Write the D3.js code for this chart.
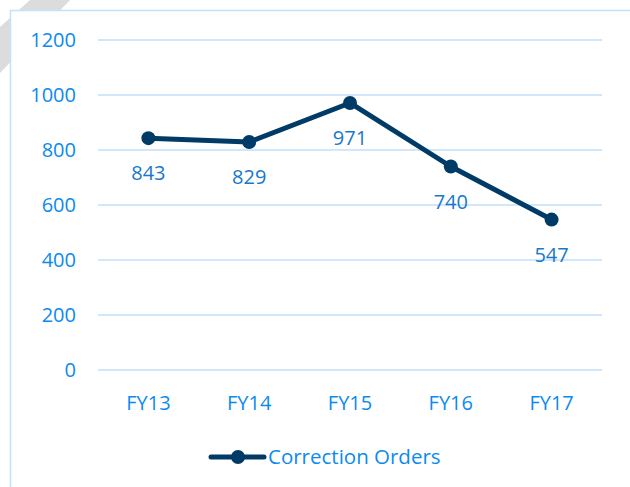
<!DOCTYPE html>
<html>
<head>
<meta charset="utf-8">
<script src="https://cdn.jsdelivr.net/npm/d3@7"></script>
<style>
  body { margin: 0; background: #fff; }
  svg text { font-family: "Open Sans", "Noto Sans", sans-serif; }
</style>
</head>
<body>
<div id="chart"></div>
<script>
const years = ["FY13", "FY14", "FY15", "FY16", "FY17"];
const orders = [843, 829, 971, 740, 547];
const yTicks = [0, 200, 400, 600, 800, 1000, 1200];
const seriesName = "Correction Orders";

const svgWidth = 630, svgHeight = 487,
    margin = { top: 40, right: 28, bottom: 117, left: 98 },
    width = svgWidth - margin.left - margin.right,
    height = svgHeight - margin.top - margin.bottom;

const lineColor = "#003a66", axisText = "#0b8af0", labelText = "#1878cc", gridColor = "#c3e1f9";

let root = d3.select("#chart").append("svg")
    .attr("width", svgWidth)
    .attr("height", svgHeight);

// grey stripe in the corner, behind the chart box
root.append("polygon")
    .attr("points", "30,0 70,0 0,73 0,27")
    .attr("fill", "#dcdcdc");

root.append("rect")
    .attr("x", 10.5).attr("y", 10.5)
    .attr("width", 640).attr("height", 500)
    .attr("fill", "#fff")
    .attr("stroke", gridColor)
    .attr("stroke-width", 1.5);

let svg = root.append("g")
    .attr("transform", "translate(" + margin.left + "," + margin.top + ")");

let x = d3.scaleBand().domain(years).range([0, width]);
let y = d3.scaleLinear().domain([0, 1200]).range([height, 0]);

// gridlines
svg.selectAll("line.grid")
    .data(yTicks)
    .join("line")
    .attr("class", "grid")
    .attr("x1", 0).attr("x2", width)
    .attr("y1", d => y(d)).attr("y2", d => y(d))
    .attr("stroke", gridColor)
    .attr("stroke-width", 1.5);

// y labels
svg.selectAll("text.ytick")
    .data(yTicks)
    .join("text")
    .attr("class", "ytick")
    .attr("x", -22)
    .attr("y", d => y(d))
    .attr("dy", "0.35em")
    .attr("text-anchor", "end")
    .attr("font-size", 20)
    .attr("fill", axisText)
    .text(d => d);

// x labels
svg.selectAll("text.xtick")
    .data(years)
    .join("text")
    .attr("class", "xtick")
    .attr("x", d => x(d) + x.bandwidth() / 2)
    .attr("y", height + 40)
    .attr("text-anchor", "middle")
    .attr("font-size", 20)
    .attr("fill", axisText)
    .text(d => d);

let pts = years.map((d, i) => ({ year: d, value: orders[i] }));

let line = d3.line()
    .x(d => x(d.year) + x.bandwidth() / 2)
    .y(d => y(d.value));

svg.append("path")
    .datum(pts)
    .attr("d", line)
    .attr("fill", "none")
    .attr("stroke", lineColor)
    .attr("stroke-width", 5)
    .attr("stroke-linejoin", "round");

svg.selectAll("circle")
    .data(pts)
    .join("circle")
    .attr("cx", d => x(d.year) + x.bandwidth() / 2)
    .attr("cy", d => y(d.value))
    .attr("r", 7)
    .attr("fill", lineColor);

svg.selectAll("text.lbl")
    .data(pts)
    .join("text")
    .attr("class", "lbl")
    .attr("x", d => x(d.year) + x.bandwidth() / 2)
    .attr("y", d => y(d.value) + 42)
    .attr("text-anchor", "middle")
    .attr("font-size", 20)
    .attr("fill", labelText)
    .text(d => d.value);

// legend
let leg = root.append("g").attr("transform", "translate(211,457)");
leg.append("line")
    .attr("x1", 0).attr("x2", 53)
    .attr("stroke", lineColor)
    .attr("stroke-width", 5)
    .attr("stroke-linecap", "round");
leg.append("circle")
    .attr("cx", 27).attr("r", 7)
    .attr("fill", lineColor);
leg.append("text")
    .attr("x", 57)
    .attr("dy", "0.35em")
    .attr("font-size", 20.5)
    .attr("fill", axisText)
    .text(seriesName);
</script>
</body>
</html>
